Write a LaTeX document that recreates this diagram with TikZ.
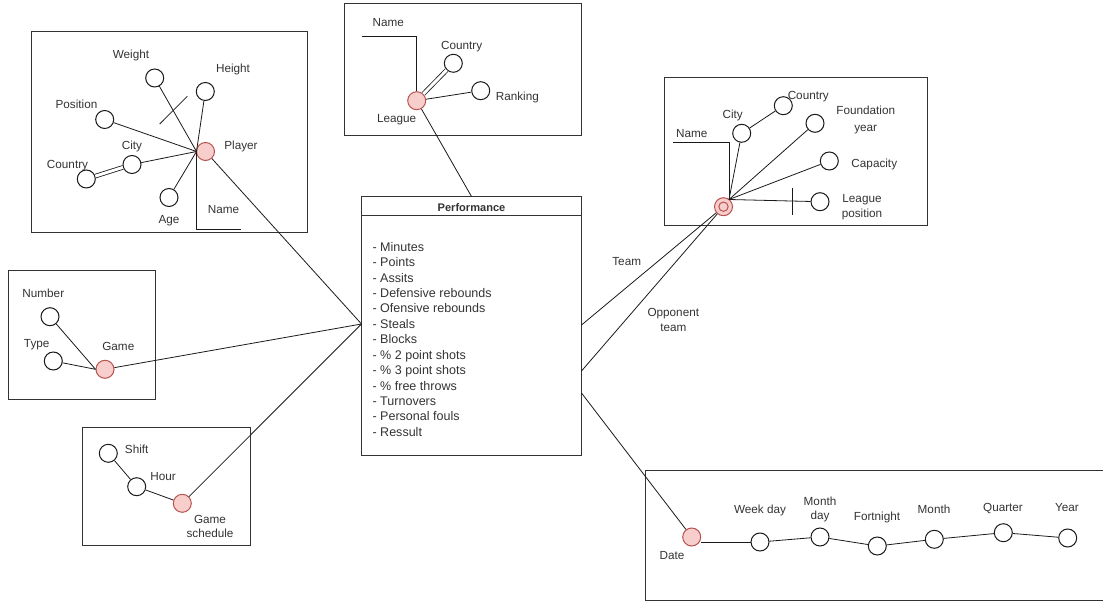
\documentclass[tikz,border=0pt]{standalone}
\usepackage{fontspec}
\setmainfont{Liberation Sans}
\definecolor{txt}{HTML}{333333}
\definecolor{linec}{HTML}{1A1A1A}
\definecolor{boxc}{HTML}{333333}
\definecolor{entfill}{HTML}{F8CECC}
\definecolor{entline}{HTML}{B85450}
\begin{document}
\begin{tikzpicture}[x=0.75pt,y=-0.75pt,
  lbl/.style={font=\fontsize{8.8}{11}\selectfont, text=txt, inner sep=0pt, align=center},
  one/.style={text height=6.3pt, text depth=1.8pt},
  box/.style={draw=boxc, line width=0.75pt},
  link/.style={draw=linec, line width=0.6pt},
  dbl/.style={draw=linec, double=white, double distance=2.2pt, line width=0.6pt},
  attr/.style={circle, draw=linec, fill=white, line width=0.75pt, minimum size=13.5pt, inner sep=0pt},
  ent/.style={circle, draw=entline, fill=entfill, line width=0.75pt, minimum size=13.5pt, inner sep=0pt}
]
\useasboundingbox (0,0) rectangle (1103,602);

% ---------- group frames ----------
\draw[box] (31,32) rectangle (307,233);
\draw[box] (344,4) rectangle (581,136);
\draw[box] (664,78) rectangle (927,226);
\draw[box] (8,271) rectangle (155,399);
\draw[box] (82,427) rectangle (250,545);
\draw[box] (1103,470) -- (645.7,470) -- (645.7,600) -- (1103,600);

% ---------- fact table ----------
\node[draw=boxc, line width=0.75pt, minimum width=165pt, minimum height=193.5pt, inner sep=0pt] (perf) at (471.5,326) {};
\draw[box] ([yshift=-14.25pt]perf.north west) -- ([yshift=-14.25pt]perf.north east);
\node[font=\bfseries\fontsize{8.3}{10}\selectfont, text=txt, inner sep=0pt] (perftitle) at (471.5,207.5) {Performance};
\foreach \t [count=\i] in {Minutes, Points, Assits, Defensive rebounds, Ofensive rebounds, Steals, Blocks, \% 2 point shots, \% 3 point shots, \% free throws, Turnovers, Personal fouls, Ressult}
  \node[font=\fontsize{9.4}{11}\selectfont, text=txt, inner sep=0pt, anchor=base west, name=item\i] at (372.3,{251.3+(\i-1)*15.42}) {- \t};
\coordinate (perfin) at (361.5,324);
\coordinate (perfteam) at (581.5,325);
\coordinate (perfopp) at (581.5,371);
\coordinate (perfdate) at (581.5,393);

% ---------- player dimension ----------
\node[ent] (player) at (205.5,151.5) {};
\node[attr] (pweight) at (154.7,78) {};
\node[attr] (pheight) at (205.3,91.5) {};
\node[attr] (ppos) at (104.7,119.5) {};
\node[attr] (pcity) at (132,164.5) {};
\node[attr] (pcountry) at (86.3,179) {};
\node[attr] (page) at (169,197.5) {};
\coordinate (phub) at (196.5,151.5);
\coordinate (pname) at (241,229);
\node[lbl,one] (lplayer) at (241,147) {Player};
\node[lbl,one] (lpweight) at (131,55.5) {Weight};
\node[lbl,one] (lpheight) at (233,69.5) {Height};
\node[lbl,one] (lppos) at (76.5,106) {Position};
\node[lbl,one] (lpcity) at (132,147) {City};
\node[lbl,one] (lpcountry) at (67.5,165.5) {Country};
\node[lbl,one] (lpage) at (169,220.5) {Age};
\node[lbl,one] (lpname) at (223.5,211) {Name};
\draw[link] (pweight) -- (phub);
\draw[link] (pheight) -- (phub);
\draw[link] (ppos) -- (phub);
\draw[link] (pcity) -- (phub);
\draw[link] (page) -- (phub);
\draw[dbl] (pcity) -- (pcountry);
\draw[link] (phub) |- (pname);
\draw[link] (159.7,124) -- (187.3,96.3);

% ---------- league dimension ----------
\node[ent] (league) at (416.7,100.7) {};
\node[attr] (lcountry) at (453.3,63.3) {};
\node[attr] (lrank) at (480.7,90.7) {};
\coordinate (lname) at (361.7,36);
\node[lbl,one] (llleague) at (396.7,120) {League};
\node[lbl,one] (llcountry) at (461.7,46.7) {Country};
\node[lbl,one] (llrank) at (517.3,97.7) {Ranking};
\node[lbl,one] (llname) at (388.3,24) {Name};
\draw[dbl] (league) -- (lcountry);
\draw[link] (league) -- (lrank);
\draw[link] (lname) -| (league.north);

% ---------- team dimension ----------
\node[ent] (team) at (723.5,206.7) {};
\node[circle, draw=entline, line width=0.75pt, minimum size=7pt, inner sep=0pt] (teamin) at (team) {};
\node[attr] (tcity) at (741.7,133.3) {};
\node[attr] (tcountry) at (783.3,105.7) {};
\node[attr] (tfound) at (815,123.3) {};
\node[attr] (tcap) at (829.3,161) {};
\node[attr] (tlpos) at (820,201.7) {};
\coordinate (thub) at (729,199.5);
\coordinate (tname) at (673,142.7);
\node[lbl,one] (ltcity) at (732.7,115.7) {City};
\node[lbl,one] (ltcountry) at (808.3,96.7) {Country};
\node[lbl, font=\fontsize{8.8}{12.4}\selectfont] (ltfound) at (865.7,120) {Foundation\\year};
\node[lbl,one] (ltcap) at (874.3,165) {Capacity};
\node[lbl] (ltlpos) at (862,207.5) {League\\position};
\node[lbl,one] (ltname) at (691.7,134.3) {Name};
\draw[link] (tcity) -- (thub);
\draw[link] (tcity) -- (tcountry);
\draw[link] (tfound) -- (thub);
\draw[link] (tcap) -- (thub);
\draw[link] (tlpos) -- (thub);
\draw[link] (tname) -| (thub);
\draw[link] (792.3,188) -- (792.3,215);

% ---------- game dimension ----------
\node[ent] (game) at (105,369.3) {};
\node[attr] (gnum) at (50,316.7) {};
\node[attr] (gtype) at (53.3,361) {};
\node[lbl,one] (lgame) at (118.3,347.3) {Game};
\node[lbl,one] (lgnum) at (43.3,294.3) {Number};
\node[lbl,one] (lgtype) at (36.7,344) {Type};
\draw[link] (gnum) -- (game.west);
\draw[link] (gtype) -- (game.west);

% ---------- game schedule dimension ----------
\node[ent] (sched) at (182.3,503.3) {};
\node[attr] (shour) at (136.7,486.7) {};
\node[attr] (sshift) at (108.3,453.3) {};
\node[lbl] (lsched) at (210,526.5) {Game\\schedule};
\node[lbl,one] (lshour) at (163,477) {Hour};
\node[lbl,one] (lsshift) at (136.7,450.7) {Shift};
\draw[link] (sshift) -- (shour);
\draw[link] (shour) -- (sched);

% ---------- date dimension ----------
\node[ent] (date) at (691.7,537) {};
\node[attr] (dweek) at (760,542) {};
\node[attr] (dmday) at (820,537) {};
\node[attr] (dfort) at (877.3,546) {};
\node[attr] (dmonth) at (934.3,539.3) {};
\node[attr] (dquart) at (1003.3,532.7) {};
\node[attr] (dyear) at (1067.7,538) {};
\node[lbl,one] (ldate) at (672,556) {Date};
\node[lbl,one] (ldweek) at (760,510.3) {Week day};
\node[lbl] (ldmday) at (820,509.5) {Month\\day};
\node[lbl,one] (ldfort) at (877,517) {Fortnight};
\node[lbl,one] (ldmonth) at (934,510) {Month};
\node[lbl,one] (ldquart) at (1003,508) {Quarter};
\node[lbl,one] (ldyear) at (1067,508) {Year};
\draw[link] (dweek.west) -- (dweek.west -| date.east);
\draw[link] (dweek) -- (dmday) -- (dfort) -- (dmonth) -- (dquart) -- (dyear);

% ---------- links to the fact table ----------
\draw[link] (player) -- (perfin);
\draw[link] (game) -- (perfin);
\draw[link] (sched) -- (perfin);
\draw[link] (league) -- (perf.north);
\draw[link] (perfteam) -- (team);
\draw[link] (perfopp) -- (team);
\draw[link] (perfdate) -- (date);
\node[lbl,one] (lteam) at (626.7,262.5) {Team};
\node[lbl] (lopp) at (673.3,320) {Opponent\\team};
\end{tikzpicture}
\end{document}
